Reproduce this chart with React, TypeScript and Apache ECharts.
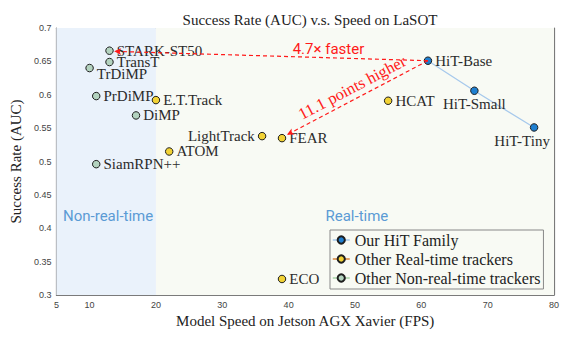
import React, { useEffect, useRef } from 'react';
import * as echarts from 'echarts';

const xTicks = [5, 10, 20, 30, 40, 50, 60, 70, 80];

const hitNames = ['HiT-Base', 'HiT-Small', 'HiT-Tiny'];
const hitFps = [61, 68, 77];
const hitAuc = [0.651, 0.606, 0.551];

const rtNames = ['E.T.Track', 'LightTrack', 'FEAR', 'ATOM', 'ECO', 'HCAT'];
const rtFps = [20, 36, 39, 22, 39, 55];
const rtAuc = [0.592, 0.538, 0.535, 0.515, 0.324, 0.591];

const nrtNames = ['STARK-ST50', 'TransT', 'TrDiMP', 'PrDiMP', 'DiMP', 'SiamRPN++'];
const nrtFps = [13, 13, 10, 11, 17, 11];
const nrtAuc = [0.666, 0.649, 0.64, 0.598, 0.569, 0.496];

const seriesNames = ['Our HiT Family', 'Other Real-time trackers', 'Other Non-real-time trackers'];

// annotation anchors (data coordinates)
const fasterFrom = [61, 0.651];
const fasterTo = [13.7, 0.665];
const higherFrom = [61, 0.651];
const higherTo = [39.75, 0.54];
const fasterText = '4.7× faster';
const higherText = '11.1 points higher';
const regionNames = ['Non-real-time', 'Real-time'];
const regionSplit = [5, 20, 80];

const labelPlacement: Record<string, any> = {
  'TrDiMP': { position: 'right', offset: [0, 6] },
  'LightTrack': { position: 'left' },
  'HiT-Small': { position: 'bottom', distance: 2 },
  'HiT-Tiny': { position: 'bottom', distance: 2, offset: [-12, 0] },
};

const SERIF = '"Liberation Serif", "Times New Roman", serif';
const SANS = '"Liberation Sans", Arial, sans-serif';

function makePoints(names: string[], fps: number[], auc: number[]) {
  return names.map((n, i) => ({
    name: n,
    value: [fps[i], auc[i]],
    label: {
      show: true,
      position: 'right',
      distance: 3,
      ...(labelPlacement[n] || {}),
    },
  }));
}

const pointLabel = {
  show: true,
  formatter: '{b}',
  fontFamily: SERIF,
  fontSize: 15,
  color: '#2b2b2b',
};

export default function App() {
  const ref = useRef<HTMLDivElement>(null);
  useEffect(() => {
    if (!ref.current) return;
    const chart = echarts.init(ref.current, undefined, { renderer: 'svg' });
    const axisColor = '#7a7a7a';
    const option: any = {
      animation: false,
      backgroundColor: '#ffffff',
      title: {
        text: 'Success Rate (AUC) v.s. Speed on LaSOT',
        left: 305,
        top: 7,
        textAlign: 'center',
        textStyle: { fontFamily: SERIF, fontSize: 15, fontWeight: 'normal', color: '#222' },
      },
      grid: { left: 56, right: 30, top: 28, bottom: 53 },
      legend: {
        orient: 'vertical',
        left: 330,
        top: 230,
        padding: [2, 3, 3, 2],
        itemGap: 3,
        itemWidth: 17,
        itemHeight: 9,
        backgroundColor: '#f8faf4',
        borderColor: '#888',
        borderWidth: 1,
        borderRadius: 0,
        textStyle: { fontFamily: SERIF, fontSize: 16, color: '#222', lineHeight: 15 },
        data: [
          { name: seriesNames[0], lineStyle: { color: '#a7c9ec', width: 1.5, opacity: 1 } },
          { name: seriesNames[1], lineStyle: { color: '#d9853b', width: 1.5, opacity: 1 } },
          { name: seriesNames[2], lineStyle: { color: '#a9d4a9', width: 1.5, opacity: 1 } },
        ],
      },
      xAxis: [
        {
          type: 'value',
          min: 5,
          max: 80,
          position: 'bottom',
          name: 'Model Speed on Jetson AGX Xavier (FPS)',
          nameLocation: 'middle',
          nameGap: 13,
          nameTextStyle: { fontFamily: SERIF, fontSize: 15, color: '#222' },
          axisLine: { show: true, lineStyle: { color: axisColor, width: 1.2 } },
          axisTick: { show: true, inside: true, length: 3, customValues: xTicks, lineStyle: { color: axisColor } },
          axisLabel: { customValues: xTicks, fontFamily: SANS, fontSize: 9, color: '#444', margin: 5 },
          splitLine: { show: true, lineStyle: { color: '#dcdcdc', type: [3, 3], width: 1 } },
        },
        {
          type: 'value',
          min: 5,
          max: 80,
          position: 'top',
          axisLine: { show: true, lineStyle: { color: axisColor, width: 1.2 } },
          axisTick: { show: true, inside: true, length: 3, customValues: xTicks, lineStyle: { color: axisColor } },
          axisLabel: { show: false },
          splitLine: { show: false },
        },
      ],
      yAxis: [
        {
          type: 'value',
          min: 0.3,
          max: 0.7,
          interval: 0.05,
          position: 'left',
          name: 'Success Rate (AUC)',
          nameLocation: 'middle',
          nameGap: 22,
          nameTextStyle: { fontFamily: SERIF, fontSize: 15, color: '#222' },
          axisLine: { show: true, lineStyle: { color: axisColor, width: 1.2 } },
          axisTick: { show: true, inside: true, length: 3, lineStyle: { color: axisColor } },
          axisLabel: { fontFamily: SANS, fontSize: 9, color: '#444', margin: 5 },
          splitLine: { show: true, lineStyle: { color: '#dcdcdc', type: [3, 3], width: 1 } },
        },
        {
          type: 'value',
          min: 0.3,
          max: 0.7,
          interval: 0.05,
          position: 'right',
          axisLine: { show: true, lineStyle: { color: axisColor, width: 1.2 } },
          axisTick: { show: true, inside: true, length: 3, lineStyle: { color: axisColor } },
          axisLabel: { show: false },
          splitLine: { show: false },
        },
      ],
      series: [
        {
          name: 'bg',
          type: 'line',
          z: -1,
          data: [],
          silent: true,
          markArea: {
            silent: true,
            data: [
              [{ xAxis: regionSplit[0], itemStyle: { color: '#eaf2fb' } }, { xAxis: regionSplit[1] }],
              [{ xAxis: regionSplit[1], itemStyle: { color: '#f8faf4' } }, { xAxis: regionSplit[2] }],
            ],
          },
        },
        {
          name: 'annot',
          type: 'line',
          z: 3,
          data: [],
          silent: true,
          markLine: {
            silent: true,
            symbolSize: [5, 7],
            lineStyle: { color: '#ff1a1a', type: [4, 3], width: 1.2 },
            label: { show: false },
            data: [
              [
                { coord: fasterFrom, symbol: 'none' },
                { coord: fasterTo, symbol: 'arrow' },
              ],
              [
                {
                  coord: higherFrom,
                  symbol: 'none',
                  label: {
                    show: true,
                    position: 'middle',
                    formatter: higherText,
                    fontFamily: SERIF,
                    fontSize: 16.5,
                    color: '#ff1a1a',
                    distance: 3,
                  },
                },
                { coord: higherTo, symbol: 'arrow' },
              ],
            ],
          },
          markPoint: {
            silent: true,
            symbol: 'circle',
            symbolSize: 1,
            itemStyle: { color: 'rgba(0,0,0,0)' },
            label: { show: true, position: 'inside', fontFamily: '"Roboto", "Noto Sans", sans-serif', fontSize: 15 },
            data: [
              { name: fasterText, coord: [46.0, 0.669], label: { formatter: fasterText, color: '#ff1a1a' } },
              { name: regionNames[0], coord: [12.79, 0.4185], label: { formatter: regionNames[0], color: '#5b9bd5' } },
              { name: regionNames[1], coord: [50.29, 0.4185], label: { formatter: regionNames[1], color: '#5b9bd5' } },
            ],
          },
        },
        {
          name: seriesNames[0],
          type: 'line',
          z: 4,
          data: makePoints(hitNames, hitFps, hitAuc),
          symbol: 'circle',
          symbolSize: 7.5,
          lineStyle: { color: '#a7c9ec', width: 1.3 },
          itemStyle: { color: '#1f7fd0', borderColor: '#1e1e1e', borderWidth: 1 },
          label: pointLabel,
        },
        {
          name: seriesNames[1],
          type: 'line',
          z: 4,
          data: makePoints(rtNames, rtFps, rtAuc),
          symbol: 'circle',
          symbolSize: 7.5,
          lineStyle: { width: 0, color: '#d9853b' },
          itemStyle: { color: '#f2d234', borderColor: '#1e1e1e', borderWidth: 1 },
          label: pointLabel,
        },
        {
          name: seriesNames[2],
          type: 'line',
          z: 4,
          data: makePoints(nrtNames, nrtFps, nrtAuc),
          symbol: 'circle',
          symbolSize: 7.5,
          lineStyle: { width: 0, color: '#a9d4a9' },
          itemStyle: { color: '#b3d3bf', borderColor: '#1e1e1e', borderWidth: 1 },
          label: pointLabel,
        },
      ],
    };
    chart.setOption(option);
    return () => chart.dispose();
  }, []);
  return (
    <div
      ref={ref}
      style={{ position: 'fixed', left: 0, top: 0, width: 584, height: 348 }}
    />
  );
}
